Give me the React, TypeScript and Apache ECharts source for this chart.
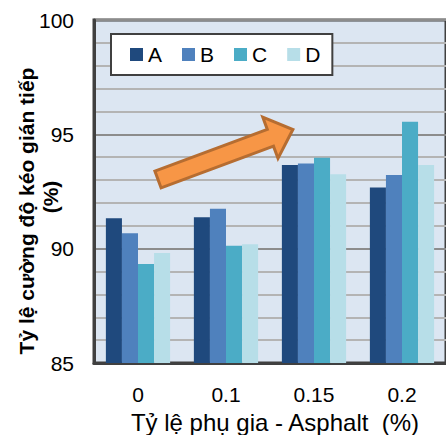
import React, { useEffect, useRef } from "react";
import * as echarts from "echarts";

const categories = ["0", "0.1", "0.15", "0.2"];
const seriesNames = ["A", "B", "C", "D"];
const valuesA = [91.33, 91.37, 93.66, 92.68];
const valuesB = [90.67, 91.75, 93.72, 93.22];
const valuesC = [89.33, 90.13, 93.98, 95.55];
const valuesD = [89.81, 90.19, 93.25, 93.66];
const colors = ["#1f497d", "#4f81bd", "#4bacc6", "#b7dee8"];
const yTitle = "Tỷ lệ cường độ kéo gián tiếp";
const yTitleUnit = "(%)";
const xTitle = "Tỷ lệ phụ gia - Asphalt  (%)";

export default function App() {
  const ref = useRef<HTMLDivElement>(null);
  useEffect(() => {
    if (!ref.current) return;
    const chart = echarts.init(ref.current, undefined, { renderer: "svg" });
    const font = "'Liberation Sans', Arial, sans-serif";
    const all = [valuesA, valuesB, valuesC, valuesD];
    chart.setOption({
      animation: false,
      textStyle: { fontFamily: font },
      grid: {
        left: 94,
        top: 20,
        right: -8,
        bottom: 72,
        show: true,
        backgroundColor: "#dce6f2",
        borderColor: "#404040",
        borderWidth: 3,
      },
      legend: {
        left: 111,
        top: 34,
        orient: "horizontal",
        backgroundColor: "#ffffff",
        borderColor: "#404040",
        borderWidth: 2,
        borderRadius: 0,
        padding: [10, 12, 10, 19],
        itemWidth: 13,
        itemHeight: 13,
        itemGap: 20,
        icon: "rect",
        textStyle: { fontSize: 21, color: "#000", fontFamily: font },
        data: seriesNames,
      },
      xAxis: {
        type: "category",
        data: categories,
        axisLine: { show: true, lineStyle: { color: "#404040", width: 3 } },
        axisTick: { show: false },
        axisLabel: { fontSize: 21, color: "#000", margin: 21, fontFamily: font },
      },
      yAxis: {
        type: "value",
        min: 85,
        max: 100,
        interval: 5,
        axisLine: { show: true, lineStyle: { color: "#404040", width: 3 } },
        axisTick: { show: false },
        axisLabel: { fontSize: 21, color: "#000", margin: 20, fontFamily: font },
        splitLine: { show: true, lineStyle: { color: "#8c8c8c", width: 2 } },
        minorTick: { show: false, splitNumber: 5 },
        minorSplitLine: { show: true, lineStyle: { color: "#b4b4b4", width: 2 } },
      },
      series: seriesNames.map((name, i) => ({
        name,
        type: "bar",
        data: all[i],
        barGap: "0%",
        barCategoryGap: "27%",
        itemStyle: { color: colors[i] },
      })),
      graphic: [
        {
          type: "polygon",
          z: 100,
          shape: {
            points: [
              [154.9, 171.1],
              [267.3, 129.4],
              [262.8, 117.2],
              [292.9, 129.5],
              [278.0, 158.4],
              [273.5, 146.2],
              [161.1, 187.9],
            ],
          },
          style: { fill: "#f79646", stroke: "#b66d31", lineWidth: 3, lineJoin: "miter" },
        },
        {
          type: "text",
          x: 26,
          y: 211,
          rotation: Math.PI / 2,
          style: {
            text: yTitle,
            fontSize: 21,
            fontWeight: "bold",
            fontFamily: font,
            fill: "#000",
            align: "center",
            verticalAlign: "middle",
          },
        },
        {
          type: "text",
          x: 50,
          y: 197,
          rotation: Math.PI / 2,
          style: {
            text: yTitleUnit,
            fontSize: 21,
            fontWeight: "bold",
            fontFamily: font,
            fill: "#000",
            align: "center",
            verticalAlign: "middle",
          },
        },
        {
          type: "text",
          x: 275,
          y: 422,
          style: {
            text: xTitle,
            fontSize: 24,
            fontFamily: font,
            fill: "#000",
            align: "center",
            verticalAlign: "middle",
          },
        },
      ],
    });
    return () => chart.dispose();
  }, []);
  return (
    <div
      ref={ref}
      style={{ position: "fixed", left: 0, top: 0, width: 446, height: 435, background: "#fff" }}
    />
  );
}
